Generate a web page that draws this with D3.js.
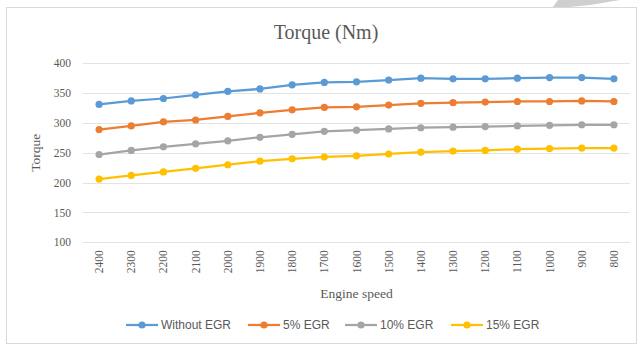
<!DOCTYPE html>
<html>
<head>
<meta charset="utf-8">
<script src="https://cdn.jsdelivr.net/npm/d3@7"></script>
<style>
  html, body { margin: 0; padding: 0; background: #fff; }
  svg { display: block; }
</style>
</head>
<body>
<svg id="chart" width="643" height="356"></svg>
<script>
// Engine speed (rpm), as listed along the x axis
const speeds = ["2400","2300","2200","2100","2000","1900","1800","1700","1600","1500","1400","1300","1200","1100","1000","900","800"];

// Torque (Nm) for each EGR rate
const withoutEGR = [331, 337, 341, 347, 353, 357, 364, 368, 369, 372, 375, 374, 374, 375, 376, 376, 374];
const egr5  = [289, 295, 302, 305, 311, 317, 322, 326, 327, 330, 333, 334, 335, 336, 336, 337, 336];
const egr10 = [247, 254, 260, 265, 270, 276, 281, 286, 288, 290, 292, 293, 294, 295, 296, 297, 297];
const egr15 = [206, 212, 218, 224, 230, 236, 240, 243, 245, 248, 251, 253, 254, 256, 257, 258, 258];

const seriesNames  = ["Without EGR", "5% EGR", "10% EGR", "15% EGR"];
const seriesColors = ["#5B9BD5", "#ED7D31", "#A5A5A5", "#FFC000"];
const yTicks = [100, 150, 200, 250, 300, 350, 400];

const series = [withoutEGR, egr5, egr10, egr15].map((vals, i) => ({
  name: seriesNames[i], color: seriesColors[i], values: vals
}));

const svg = d3.select("#chart");
const serif = "'Liberation Serif', 'DejaVu Serif', serif";
const sans = "'Liberation Sans', 'DejaVu Sans', sans-serif";
const textColor = "#595959";

// decorative grey wedge at the top edge of the page
svg.append("path")
  .attr("d", "M553,7 L558,0 L620,0 L590,5 L570,7 Z")
  .attr("fill", "#cfcfcf");

// chart frame
svg.append("rect")
  .attr("x", 6.5).attr("y", 7.5).attr("width", 630).attr("height", 336)
  .attr("fill", "#fff").attr("stroke", "#d9d9d9").attr("stroke-width", 1);

const plot = { left: 83, right: 630, top: 63.3, bottom: 242.3 };

const x = d3.scaleBand().domain(speeds).range([plot.left, plot.right]);
const y = d3.scaleLinear().domain([100, 400]).range([plot.bottom, plot.top]);

// horizontal gridlines
svg.append("g").selectAll("line").data(yTicks).join("line")
  .attr("x1", plot.left).attr("x2", plot.right)
  .attr("y1", d => Math.round(y(d)) + 0.5).attr("y2", d => Math.round(y(d)) + 0.5)
  .attr("stroke", "#e3e3e3").attr("stroke-width", 1);

// y axis labels
const yAxis = d3.axisLeft(y).tickValues(yTicks).tickSize(0).tickPadding(0);
const gy = svg.append("g").attr("transform", `translate(71,0)`).call(yAxis);
gy.select(".domain").remove();
gy.selectAll("text").attr("font-family", serif).attr("font-size", 11.5).attr("fill", textColor);

// x axis labels, rotated
const xAxis = d3.axisBottom(x).tickSize(0).tickPadding(0);
const gx = svg.append("g").attr("transform", `translate(0,${plot.bottom})`).call(xAxis);
gx.select(".domain").remove();
gx.selectAll("text")
  .attr("font-family", serif).attr("font-size", 11.5).attr("fill", textColor)
  .attr("text-anchor", "end")
  .attr("dy", "0.35em")
  .attr("transform", "translate(0,8) rotate(-90)")
  .attr("x", 0).attr("y", 0);

// lines and markers
const cx = d => x(d) + x.bandwidth() / 2;
const line = d3.line().x((v, i) => cx(speeds[i])).y(v => y(v));

const gs = svg.append("g").selectAll("g").data(series).join("g");
gs.append("path")
  .attr("d", d => line(d.values))
  .attr("fill", "none").attr("stroke", d => d.color)
  .attr("stroke-width", 2.25).attr("stroke-linejoin", "round");
gs.each(function(d) {
  d3.select(this).selectAll("circle").data(d.values).join("circle")
    .attr("cx", (v, i) => cx(speeds[i])).attr("cy", v => y(v))
    .attr("r", 3.6).attr("fill", d.color);
});

// title and axis titles
svg.append("text").attr("x", 326).attr("y", 39).attr("text-anchor", "middle")
  .attr("font-family", serif).attr("font-size", 20).attr("fill", textColor)
  .text("Torque (Nm)");
svg.append("text").attr("x", (plot.left + plot.right) / 2).attr("y", 298).attr("text-anchor", "middle")
  .attr("font-family", serif).attr("font-size", 13.5).attr("fill", textColor)
  .text("Engine speed");
svg.append("text").attr("transform", `translate(40,${(plot.top + plot.bottom) / 2}) rotate(-90)`)
  .attr("text-anchor", "middle")
  .attr("font-family", serif).attr("font-size", 13.5).attr("fill", textColor)
  .text("Torque");

// legend
const legendX = [126, 248, 345, 451];
const lg = svg.append("g").selectAll("g").data(series).join("g")
  .attr("transform", (d, i) => `translate(${legendX[i]},325)`);
lg.append("line").attr("x1", 0).attr("x2", 32).attr("y1", 0).attr("y2", 0)
  .attr("stroke", d => d.color).attr("stroke-width", 2.25);
lg.append("circle").attr("cx", 16).attr("cy", 0).attr("r", 3.6).attr("fill", d => d.color);
lg.append("text").attr("x", 35).attr("y", 0).attr("dy", "0.35em")
  .attr("font-family", sans).attr("font-size", 12).attr("fill", textColor)
  .text(d => d.name);
</script>
</body>
</html>
